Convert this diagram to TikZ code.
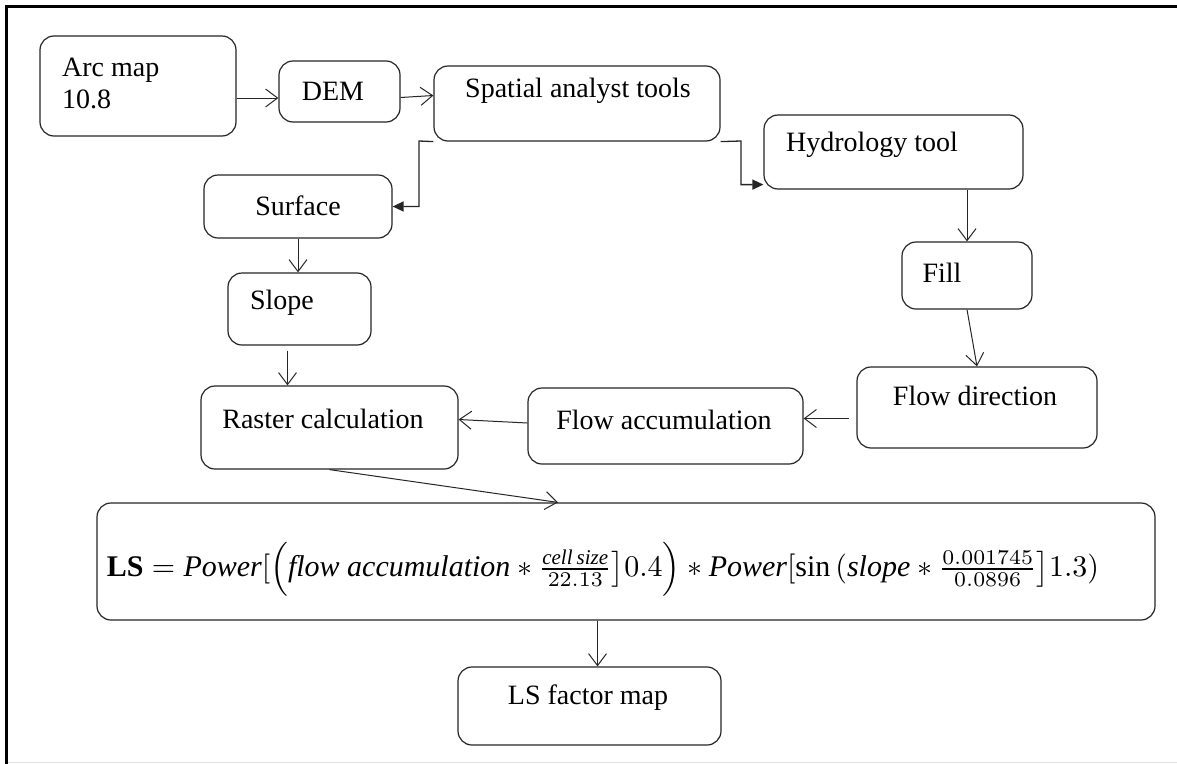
\documentclass[tikz,border=0pt]{standalone}
\usepackage{fontspec}
\setmainfont{Liberation Serif}
\usepackage{graphicx}
\usetikzlibrary{arrows.meta,calc}

\begin{document}
\begin{tikzpicture}[x=1pt,y=-1pt,
  box/.style={draw=black!85, line width=1.2pt, rounded corners=14pt, inner sep=0pt},
  lbl/.style={inner sep=0pt, font=\fontsize{28}{32}\selectfont, text=black},
  arr/.style={draw=black!85, line width=1pt, -{Straight Barb[length=12pt,width=18pt,line width=1pt]}},
  farr/.style={draw=black!85, line width=1.3pt, -{Triangle[length=11pt,width=10pt]}}]

\useasboundingbox (0,0) rectangle (1177,763);
\fill[white] (0,0) rectangle (1177,763);

% page frame
\draw[line width=3pt, black] (6,1177) -- (6,6) -- (1177,6);
\draw[line width=1pt, black!12] (8,762) -- (1177,762);

% boxes
\node[box, minimum width=196pt, minimum height=100pt] (arc)   at (138,86) {};
\node[box, minimum width=121pt, minimum height=61pt]  (dem)   at (339.5,91.5) {};
\node[box, minimum width=286pt, minimum height=75pt]  (spat)  at (577,103.5) {};
\node[box, minimum width=259pt, minimum height=74pt]  (hydro) at (893.5,152) {};
\node[box, minimum width=188pt, minimum height=63pt]  (surf)  at (298,206.5) {};
\node[box, minimum width=143pt, minimum height=72pt]  (slope) at (299.5,309) {};
\node[box, minimum width=130pt, minimum height=67pt]  (fill)  at (967,275.5) {};
\node[box, minimum width=240pt, minimum height=81pt]  (fdir)  at (977,407.5) {};
\node[box, minimum width=275pt, minimum height=76pt]  (facc)  at (665.5,426) {};
\node[box, minimum width=257pt, minimum height=83pt]  (rast)  at (329.5,427.5) {};
\node[box, minimum width=1058pt, minimum height=117pt] (form) at (626,561.5) {};
\node[box, minimum width=263pt, minimum height=78pt]  (ls)    at (589.5,706) {};

% box texts
\node[lbl, anchor=north west, align=left] (t-arc) at (62,58) {Arc map\\10.8};
\node[lbl] (t-dem)   at (333,91)  {DEM};
\node[lbl] (t-spat)  at (578,91)  {Spatial analyst tools};
\node[lbl] (t-hydro) at (872,145) {Hydrology tool};
\node[lbl] (t-surf)  at (298,206) {Surface};
\node[lbl] (t-slope) at (282,303) {Slope};
\node[lbl] (t-fill)  at (942,273) {Fill};
\node[lbl] (t-fdir)  at (975,396) {Flow direction};
\node[lbl] (t-facc)  at (664,420) {Flow accumulation};
\node[lbl] (t-rast)  at (323,419) {Raster calculation};
\node[lbl] (t-ls)    at (588,698) {LS factor map};
\node[inner sep=0pt] (t-form) at (603,569) {\resizebox*{992pt}{54pt}{$\mathbf{LS} = \mathit{Power}[\Big(\mathit{flow\ accumulation} * \frac{\mathit{cell\,size}}{22.13}\big]0.4\Big) * \mathit{Power}[\sin\,(\mathit{slope} * \frac{0.001745}{0.0896}\big]1.3)$}};

% connectors
\draw[arr] ([yshift=-12pt]arc.east) -- ([yshift=-12pt]arc.east -| dem.west);
\draw[arr] ([yshift=-6pt]dem.east) -- ([yshift=8pt]spat.west);
\draw[farr] (spat.south west) -- (419,141) |- (surf.east);
\draw[farr] (spat.south east) -- (741,141) |- ([yshift=5pt]hydro.south west);
\draw[arr] (fill.north |- hydro.south) -- (fill.north);
\draw[arr] (fill.south) -- (fdir.north);
\draw[arr, shorten <=7pt] ([yshift=-11pt]fdir.west) -- ([yshift=-11pt]fdir.west -| facc.east);
\draw[arr] ([yshift=3pt]facc.west) -- ([yshift=8pt]rast.east);
\draw[arr] (surf.south) -- (surf.south |- slope.north);
\draw[arr, shorten <=5pt] ([xshift=-12pt]slope.south) -- ([xshift=-12pt]slope.south |- rast.north);
\draw[arr] (rast.south) -- ([xshift=-68pt]form.north);
\coordinate (lsin) at ([xshift=8pt]ls.north);
\draw[arr] (lsin |- form.south) -- (lsin);
\end{tikzpicture}
\end{document}
